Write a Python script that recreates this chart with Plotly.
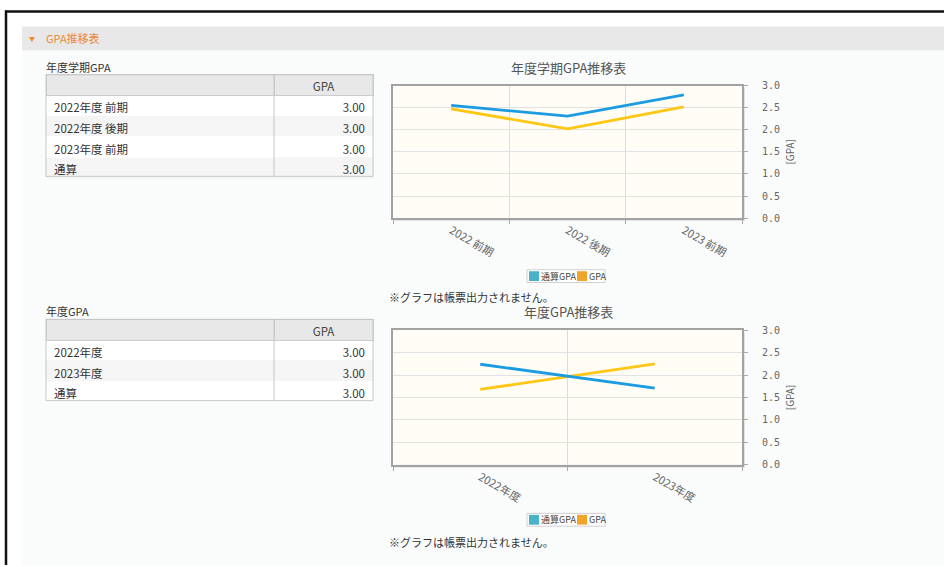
import plotly.graph_objects as go

# ---------------- data ----------------
semester_categories = ["2022 前期", "2022 後期", "2023 前期"]
semester_cum_gpa = [2.55, 2.31, 2.79]
semester_gpa = [2.47, 2.02, 2.52]

year_categories = ["2022年度", "2023年度"]
year_cum_gpa = [2.24, 1.71]
year_gpa = [1.68, 2.25]

series_names = ["通算GPA", "GPA"]

table1_labels = ["2022年度 前期", "2022年度 後期", "2023年度 前期", "通算"]
table1_values = ["3.00", "3.00", "3.00", "3.00"]
table2_labels = ["2022年度", "2023年度", "通算"]
table2_values = ["3.00", "3.00", "3.00"]

y_ticks = [0.0, 0.5, 1.0, 1.5, 2.0, 2.5, 3.0]

# ---------------- styling ----------------
W, H = 944, 567
FONT = "Noto Sans CJK JP"
BLUE_LINE = "#1a9be2"
YELLOW_LINE = "#ffc613"
BLUE_LEG = "#48b2c8"
ORANGE_LEG = "#f0a42a"


def fx(px):
    return px / W


def fy(py):
    return 1 - py / H


fig = go.Figure()


# ---- tables ----
def add_table(labels, values, top):
    n = len(labels)
    fills_col = ["#ffffff" if i % 2 == 0 else "#f5f5f5" for i in range(n)]
    fig.add_trace(go.Table(
        domain=dict(x=[fx(46), fx(373)], y=[fy(top + 21 + 20.6 * n + 6), fy(top)]),
        columnwidth=[228, 99],
        header=dict(values=["", "GPA"], fill_color="#e8e8e8",
                    line=dict(color="#cccccc", width=1),
                    align=["left", "center"], height=21,
                    font=dict(family=FONT, size=11.5, color="#444")),
        cells=dict(values=[labels, values], fill_color=[fills_col, fills_col],
                   line=dict(color=[fills_col, fills_col], width=1),
                   align=["left", "right"], height=20.6,
                   font=dict(family=FONT, size=11.5, color="#333")),
    ))


add_table(table1_labels, table1_values, 71)
add_table(table2_labels, table2_values, 320)

# ---- chart traces ----
fig.add_trace(go.Scatter(x=semester_categories, y=semester_gpa, mode="lines", name=series_names[1],
                         line=dict(color=YELLOW_LINE, width=2.8), showlegend=False,
                         xaxis="x", yaxis="y"))
fig.add_trace(go.Scatter(x=semester_categories, y=semester_cum_gpa, mode="lines", name=series_names[0],
                         line=dict(color=BLUE_LINE, width=2.8), showlegend=False,
                         xaxis="x", yaxis="y"))
fig.add_trace(go.Scatter(x=year_categories, y=year_gpa, mode="lines", name=series_names[1],
                         line=dict(color=YELLOW_LINE, width=2.8), showlegend=False,
                         xaxis="x2", yaxis="y2"))
fig.add_trace(go.Scatter(x=year_categories, y=year_cum_gpa, mode="lines", name=series_names[0],
                         line=dict(color=BLUE_LINE, width=2.8), showlegend=False,
                         xaxis="x2", yaxis="y2"))


def xaxis_cfg(cats):
    return dict(type="category", categoryorder="array", categoryarray=cats,
                range=[-0.5, len(cats) - 0.5], tickson="boundaries",
                domain=[fx(393), fx(742)], showgrid=True, gridcolor="#dcdcdc",
                showline=True, mirror=True, linecolor="#a2a2a2", linewidth=2,
                ticks="outside", ticklen=4, tickcolor="#aaaaaa", tickangle=30,
                tickfont=dict(family=FONT, size=11, color="#666"), fixedrange=True)


def yaxis_cfg(anchor, top, bottom):
    return dict(anchor=anchor, side="right", range=[0, 3], tickvals=y_ticks,
                tickformat=".1f", domain=[fy(bottom), fy(top)], showgrid=True,
                gridcolor="#e2e2e2", showline=True, mirror=True, linecolor="#a2a2a2",
                linewidth=2, ticks="outside", ticklen=4, tickcolor="#aaaaaa",
                ticklabelstandoff=12, zeroline=False,
                tickfont=dict(family="DejaVu Sans Mono", size=10, color="#666"),
                title=dict(text="[GPA]", standoff=8,
                           font=dict(family=FONT, size=10, color="#666")),
                fixedrange=True)


fig.update_layout(
    width=W, height=H, margin=dict(l=0, r=0, t=0, b=0),
    paper_bgcolor="#ffffff", plot_bgcolor="rgba(0,0,0,0)",
    font=dict(family=FONT, color="#333"), showlegend=False,
    xaxis=dict(xaxis_cfg(semester_categories), anchor="y"),
    yaxis=yaxis_cfg("x", 82, 217),
    xaxis2=dict(xaxis_cfg(year_categories), anchor="y2"),
    yaxis2=yaxis_cfg("x2", 331, 468),
)

shapes = [
    # inner page background
    dict(type="rect", xref="paper", yref="paper", x0=fx(22), x1=fx(946), y0=fy(570), y1=fy(22),
         fillcolor="#fafcfc", line=dict(width=0), layer="below"),
    # header bar
    dict(type="rect", xref="paper", yref="paper", x0=fx(22), x1=fx(946), y0=fy(46), y1=fy(22),
         fillcolor="#e8e8e8", line=dict(width=0), layer="below"),
    # outer frame
    dict(type="line", xref="paper", yref="paper", x0=fx(5), x1=fx(946), y0=fy(6.5), y1=fy(6.5),
         line=dict(color="#111111", width=2.5)),
    dict(type="line", xref="paper", yref="paper", x0=fx(6), x1=fx(6), y0=fy(5.5), y1=fy(570),
         line=dict(color="#111111", width=2.5)),
]
# plot shadows + cream plot backgrounds
for top, bottom in [(82, 217), (331, 468)]:
    shapes.append(dict(type="rect", xref="paper", yref="paper", x0=fx(395), x1=fx(745),
                       y0=fy(bottom + 3), y1=fy(top + 2), fillcolor="#e4e4e4",
                       line=dict(width=0), layer="below"))
    shapes.append(dict(type="rect", xref="paper", yref="paper", x0=fx(393), x1=fx(742),
                       y0=fy(bottom), y1=fy(top), fillcolor="#fffdf6",
                       line=dict(width=0), layer="below"))
# table outer borders and column separators
for top, n in [(71, 4), (320, 3)]:
    bottom = top + 21 + 20.6 * n
    shapes.append(dict(type="rect", xref="paper", yref="paper", x0=fx(46), x1=fx(373),
                       y0=fy(bottom), y1=fy(top), line=dict(color="#c6c6c6", width=1)))
    shapes.append(dict(type="line", xref="paper", yref="paper", x0=fx(274), x1=fx(274),
                       y0=fy(bottom), y1=fy(top), line=dict(color="#c6c6c6", width=1)))

annotations = [
    dict(text="▼", x=fx(32), y=fy(34), font=dict(size=6, color="#f08a24")),
    dict(text="GPA推移表", x=fx(45), y=fy(34), xanchor="left",
         font=dict(size=11, color="#ec8a36")),
    dict(text="年度学期GPA", x=fx(45), y=fy(63), xanchor="left",
         font=dict(size=11, color="#333")),
    dict(text="年度GPA", x=fx(45), y=fy(312), xanchor="left",
         font=dict(size=11, color="#333")),
    dict(text="年度学期GPA推移表", x=fx(568), y=fy(64),
         font=dict(size=13, color="#555")),
    dict(text="年度GPA推移表", x=fx(568), y=fy(312),
         font=dict(size=13, color="#555")),
    dict(text="※グラフは帳票出力されません。", x=fx(388), y=fy(297), xanchor="left",
         font=dict(size=11, color="#333")),
    dict(text="※グラフは帳票出力されません。", x=fx(388), y=fy(547), xanchor="left",
         font=dict(size=11, color="#333")),
]

# legends (compact boxed style)
for cy in [276, 524]:
    shapes.append(dict(type="rect", xref="paper", yref="paper", x0=fx(527), x1=fx(605),
                       y0=fy(cy + 6.5), y1=fy(cy - 6.5), fillcolor="#ffffff",
                       line=dict(color="#d0d0d0", width=1)))
    for sx, tx, col, name in [(529, 540, BLUE_LEG, series_names[0]),
                              (577, 588, ORANGE_LEG, series_names[1])]:
        shapes.append(dict(type="rect", xref="paper", yref="paper", x0=fx(sx), x1=fx(sx + 10),
                           y0=fy(cy + 5), y1=fy(cy - 5), fillcolor=col, line=dict(width=0)))
        annotations.append(dict(text=name, x=fx(tx), y=fy(cy), xanchor="left",
                                font=dict(size=9, color="#444")))

for a in annotations:
    a.update(xref="paper", yref="paper", showarrow=False, yanchor="middle",
             font=dict(family=FONT, **a["font"]))
    a.setdefault("xanchor", "center")
    a.setdefault("borderpad", 0)
fig.update_layout(shapes=shapes, annotations=annotations)

fig.write_html("out.html", config={"displayModeBar": False},
               post_script="document.body.style.margin='0';")
